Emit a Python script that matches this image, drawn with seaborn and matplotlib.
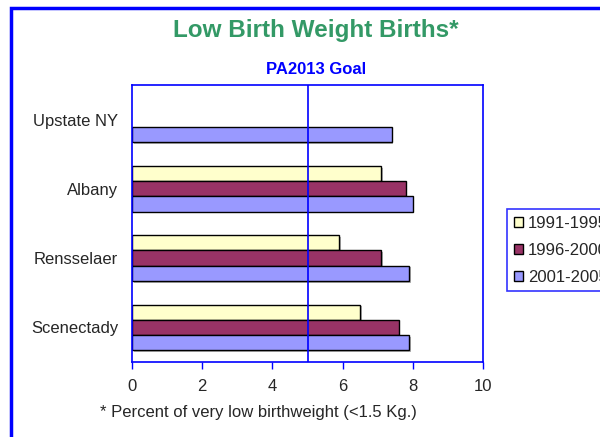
import pandas as pd
import numpy as np
import matplotlib
matplotlib.use("Agg")
import matplotlib.pyplot as plt
import matplotlib.patheffects as pe
import seaborn as sns
from matplotlib.patches import Rectangle

# values (percent of very low birthweight births)
places = ['Upstate NY', 'Albany', 'Rensselaer', 'Scenectady']
periods = ['1991-1995', '1996-2000', '2001-2005']
pct_1991 = [np.nan, 7.1, 5.9, 6.5]
pct_1996 = [np.nan, 7.8, 7.1, 7.6]
pct_2001 = [7.4, 8.0, 7.9, 7.9]
goal = 5
x_ticks = [0, 2, 4, 6, 8, 10]

df = pd.DataFrame({
    'place': places * 3,
    'period': [periods[0]] * 4 + [periods[1]] * 4 + [periods[2]] * 4,
    'pct': pct_1991 + pct_1996 + pct_2001,
})

palette = {'1991-1995': '#FFFFCC', '1996-2000': '#993366', '2001-2005': '#9999FF'}
blue = '#0000FF'

sns.set_style('white')
plt.rcParams['font.family'] = ['Liberation Sans', 'DejaVu Sans']

fig = plt.figure(figsize=(6, 4.37), dpi=100)
ax = fig.add_axes([0.22, 0.1716, 0.585, 0.634])

sns.barplot(data=df, y='place', x='pct', hue='period', order=places,
            hue_order=periods, palette=palette, orient='h', width=0.66,
            edgecolor='black', linewidth=1, saturation=1, ax=ax, legend=True)

# little drop shadow like the old spreadsheet chart
for bar in ax.patches:
    bar.set_path_effects([pe.SimplePatchShadow(offset=(1.2, -1.2), shadow_rgbFace='gray', alpha=0.6),
                          pe.Normal()])

ax.axvline(goal, color=blue, lw=1.2, zorder=5)

ax.set_xlim(0, 10)
ax.set_xticks(x_ticks)
ax.set_xticklabels([str(t) for t in x_ticks], fontsize=12)
ax.set_ylim(len(places) - 0.5, -0.5)
ax.set_yticks(range(len(places)))
ax.set_yticklabels(places, fontsize=12)
ax.set_yticks(np.arange(-0.5, len(places), 1), minor=True)
ax.tick_params(axis='y', which='major', length=0, pad=10)
ax.tick_params(axis='y', which='minor', length=5, color=blue, width=1, direction='out')
ax.tick_params(axis='x', length=5, color=blue, width=1, direction='out', pad=7, bottom=True)
ax.set_xlabel('')
ax.set_ylabel('')
for sp in ax.spines.values():
    sp.set_color(blue)
    sp.set_linewidth(1.2)

handles, labels = ax.get_legend_handles_labels()
ax.get_legend().remove()
leg = fig.legend(handles, labels, loc='upper left', bbox_to_anchor=(0.845, 0.522),
                 fontsize=12, frameon=True, fancybox=False, handlelength=0.55,
                 handleheight=0.55, handletextpad=0.3, labelspacing=0.72,
                 borderpad=0.4, borderaxespad=0)
leg.get_frame().set_edgecolor(blue)
leg.get_frame().set_linewidth(1.2)

fig.text(316 / 600, 1 - 30 / 437, 'Low Birth Weight Births*', ha='center', va='center',
         fontsize=17.5, fontweight='bold', color='#339966')
fig.text(316 / 600, 1 - 70 / 437, 'PA2013 Goal', ha='center', va='center',
         fontsize=12, fontweight='bold', color=blue)
fig.text(100 / 600, 1 - 413 / 437, '* Percent of very low birthweight (<1.5 Kg.)',
         ha='left', va='center', fontsize=12)

fig.patches.append(Rectangle((11 / 600, -0.1), 1.2, 1 - 8 / 437 + 0.1,
                             transform=fig.transFigure, fill=False,
                             edgecolor=blue, lw=2.5, clip_on=False))

plt.savefig('out.png', dpi=100)
